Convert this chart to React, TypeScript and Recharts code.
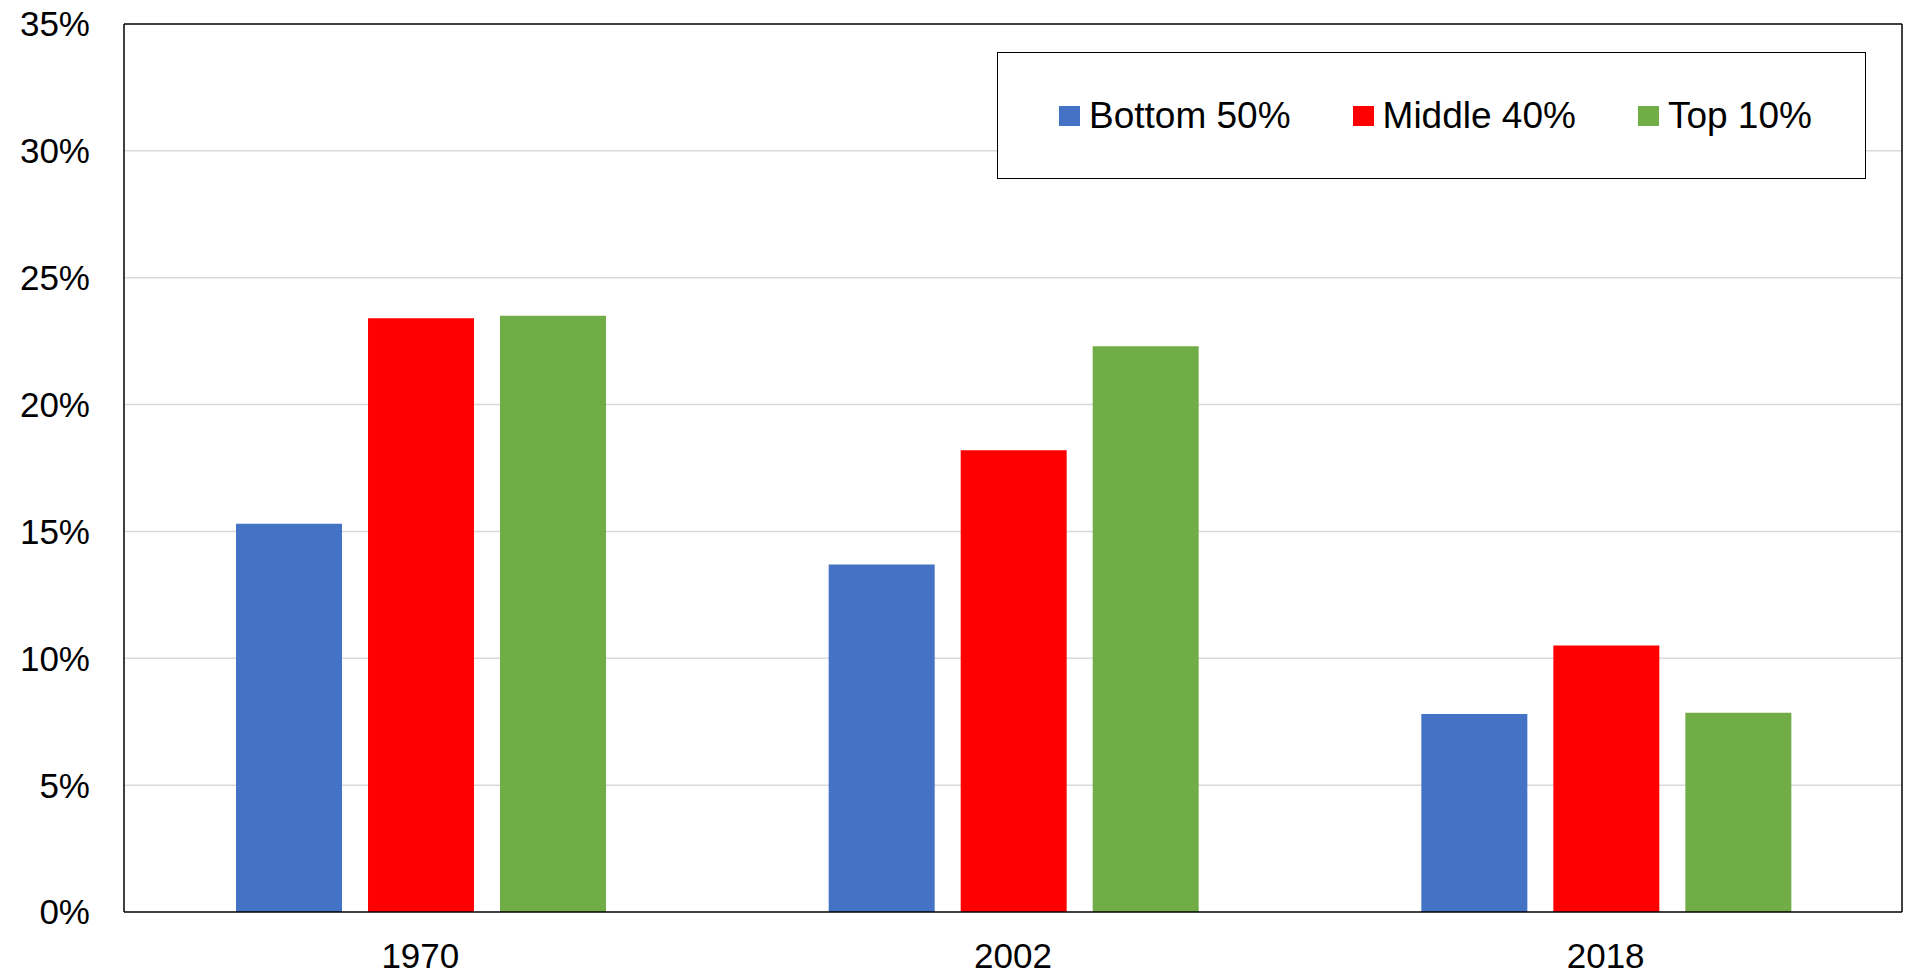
import React from "react";
import {
  BarChart,
  Bar,
  XAxis,
  YAxis,
  CartesianGrid,
} from "recharts";

// values (percent)
const years = ["1970", "2002", "2018"];
const bottom50 = [15.3, 13.7, 7.8];
const middle40 = [23.4, 18.2, 10.5];
const top10 = [23.5, 22.3, 7.85];
const yTicks = [0, 5, 10, 15, 20, 25, 30, 35];

const SERIES = [
  { key: "bottom", name: "Bottom 50%", color: "#4472C4" },
  { key: "middle", name: "Middle 40%", color: "#FF0000" },
  { key: "top", name: "Top 10%", color: "#70AD47" },
];

const data = years.map((year, i) => ({
  year,
  bottom: bottom50[i],
  middle: middle40[i],
  top: top10[i],
}));

const FONT = '"Liberation Sans", Arial, Helvetica, sans-serif';
const frame = { stroke: "#000", strokeWidth: 1.5 };

function LegendBox() {
  return (
    <div
      style={{
        position: "absolute",
        left: 997,
        top: 52,
        width: 869,
        height: 127,
        boxSizing: "border-box",
        border: "1.5px solid #000",
        background: "#fff",
        display: "flex",
        alignItems: "center",
        paddingLeft: 61,
        gap: 62,
        fontFamily: FONT,
        fontSize: 37,
        color: "#000",
      }}
    >
      {SERIES.map((s) => (
        <div key={s.key} style={{ display: "flex", alignItems: "center" }}>
          <span
            style={{
              width: 21,
              height: 20,
              background: s.color,
              display: "inline-block",
              marginRight: 9,
            }}
          />
          <span style={{ lineHeight: "40px", whiteSpace: "nowrap" }}>{s.name}</span>
        </div>
      ))}
    </div>
  );
}

export default function App() {
  return (
    <div style={{ position: "absolute", left: 0, top: 0, width: 1905, height: 974, background: "#fff" }}>
      <BarChart
        width={1905}
        height={974}
        data={data}
        margin={{ top: 23, right: 2, left: 0, bottom: 0 }}
        barCategoryGap="18.9%"
        barGap={26}
      >
        <CartesianGrid
          vertical={false}
          stroke="#d9d9d9"
          strokeWidth={1.5}
          horizontalValues={[5, 10, 15, 20, 25, 30]}
        />
        <XAxis
          dataKey="year"
          height={62}
          tickSize={0}
          tickMargin={31}
          axisLine={frame}
          tick={{ fill: "#000", fontSize: 35, fontFamily: FONT }}
        />
        <XAxis
          xAxisId="frameTop"
          dataKey="year"
          orientation="top"
          height={1}
          tick={false}
          tickLine={false}
          axisLine={frame}
        />
        <YAxis
          width={124}
          domain={[0, 35]}
          ticks={yTicks}
          tickSize={0}
          tickMargin={34}
          tickFormatter={(v) => `${v}%`}
          axisLine={frame}
          tick={{ fill: "#000", fontSize: 35, fontFamily: FONT }}
        />
        <YAxis
          yAxisId="frameRight"
          orientation="right"
          width={1}
          domain={[0, 35]}
          tick={false}
          tickLine={false}
          axisLine={frame}
        />
        {SERIES.map((s) => (
          <Bar
            key={s.key}
            dataKey={s.key}
            name={s.name}
            fill={s.color}
            isAnimationActive={false}
          />
        ))}
      </BarChart>
      <LegendBox />
    </div>
  );
}
